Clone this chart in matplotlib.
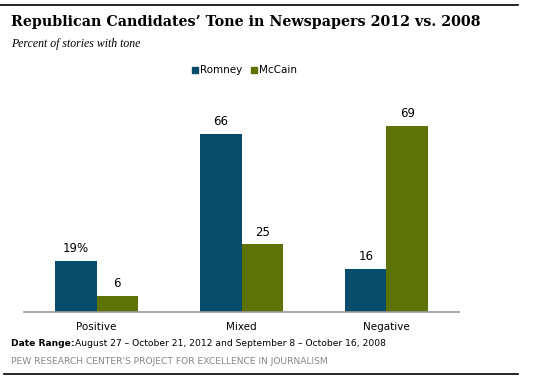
import numpy as np
import matplotlib
matplotlib.use("Agg")
import matplotlib.pyplot as plt
from matplotlib.patches import Rectangle
from matplotlib.lines import Line2D

categories = ["Positive", "Mixed", "Negative"]
romney = [19, 66, 16]
mccain = [6, 25, 69]
romney_labels = ["19%", "66", "16"]
mccain_labels = ["6", "25", "69"]

C_ROM = "#084c6b"
C_MCC = "#5e7306"

W, H = 543, 380
fig = plt.figure(figsize=(W / 100, H / 100), dpi=100)
ax = fig.add_axes([24 / W, 68 / H, 435 / W, 212 / H])

x = np.arange(len(categories))
bw = 0.286
ax.bar(x - bw / 2, romney, bw, color=C_ROM)
ax.bar(x + bw / 2, mccain, bw, color=C_MCC)
for xi, v, lab in zip(x - bw / 2, romney, romney_labels):
    ax.text(xi, v + 2.2, lab, ha="center", va="bottom", fontsize=8.5)
for xi, v, lab in zip(x + bw / 2, mccain, mccain_labels):
    ax.text(xi, v + 2.2, lab, ha="center", va="bottom", fontsize=8.5)

ax.set_xlim(-0.5, 2.5)
ax.set_ylim(0, 78.5)
ax.set_yticks([])
ax.set_xticks(x)
ax.set_xticklabels(categories, fontsize=7.5)
ax.tick_params(axis="x", length=0, pad=7)
for s in ("top", "right", "left"):
    ax.spines[s].set_visible(False)
ax.spines["bottom"].set_color("#999999")
ax.spines["bottom"].set_linewidth(1.2)

# frame lines
fig.add_artist(Line2D([0, 518 / W], [1 - 5 / H, 1 - 5 / H], color="black", lw=1.2))
fig.add_artist(Line2D([4 / W, 518 / W], [1 - 374 / H, 1 - 374 / H], color="black", lw=1.2))

fig.text(11 / W, 1 - 22 / H, "Republican Candidates\u2019 Tone in Newspapers 2012 vs. 2008",
         fontsize=10.3, fontweight="bold", family="DejaVu Serif", va="center")
fig.text(11 / W, 1 - 44 / H, "Percent of stories with tone", fontsize=8.5,
         style="italic", family="Liberation Serif", va="center")

# legend
fig.add_artist(Rectangle((192 / W, 1 - 73 / H), 6 / W, 6 / H, color=C_ROM))
fig.text(200 / W, 1 - 70 / H, "Romney", fontsize=7.5, va="center")
fig.add_artist(Rectangle((251 / W, 1 - 73 / H), 6 / W, 6 / H, color=C_MCC))
fig.text(259 / W, 1 - 70 / H, "McCain", fontsize=7.5, va="center")

fig.text(11 / W, 1 - 344 / H, "Date Range:", fontsize=6.6, fontweight="bold", va="center")
fig.text(75 / W, 1 - 344 / H,
         "August 27 \u2013 October 21, 2012 and September 8 \u2013 October 16, 2008",
         fontsize=6.6, va="center")
fig.text(11 / W, 1 - 362 / H, "PEW RESEARCH CENTER'S PROJECT FOR EXCELLENCE IN JOURNALISM",
         fontsize=6.6, color="#888888", va="center")

fig.savefig("out.png", dpi=100)
